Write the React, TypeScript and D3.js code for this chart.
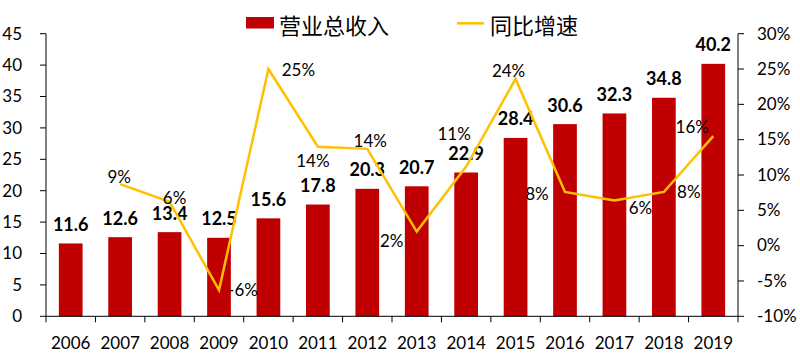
import React from "react";
import * as d3 from "d3";

const years = ["2006","2007","2008","2009","2010","2011","2012","2013","2014","2015","2016","2017","2018","2019"];
const revenue = [11.6, 12.6, 13.4, 12.5, 15.6, 17.8, 20.3, 20.7, 22.9, 28.4, 30.6, 32.3, 34.8, 40.2];
const growth: (number | null)[] = [null, 8.7, 6.2, -6.3, 25.0, 14.0, 13.7, 2.0, 11.2, 23.6, 7.6, 6.4, 7.6, 15.5];
const growthLabels = ["", "9%", "6%", "-6%", "25%", "14%", "14%", "2%", "11%", "24%", "8%", "6%", "8%", "16%"];
const leftTicks = [0, 5, 10, 15, 20, 25, 30, 35, 40, 45];
const rightTicks = [-10, -5, 0, 5, 10, 15, 20, 25, 30];
const seriesNames = ["营业总收入", "同比增速"];

// label placement offsets (dx, dy of text baseline-center relative to point)
const pctOffsets: [number, number][] = [
  [0, 0], [-1, -1], [5, 2], [24, 6], [30, 7], [-5, 20.5], [3, -1.5],
  [-25, 15], [-12, -27], [-7, -2], [-28, 8.5], [26, 14], [25, 5.6], [-21, -3.3],
];

const W = 800, H = 358;
const L = 46, R = 738, T = 33.7, B = 316.3;
const BAR = "#C00000";
const LINE = "#FFC000";
const FONT = "Lato, 'Noto Sans', sans-serif";
const CJK = "'Noto Sans CJK SC', sans-serif";

export default function App() {
  const x = d3.scaleBand<string>().domain(years).range([L, R]).paddingInner(0.52).paddingOuter(0.26);
  const yL = d3.scaleLinear().domain([0, 45]).range([B, T]);
  const yR = d3.scaleLinear().domain([-10, 30]).range([B, T]);
  const cx = (y: string) => (x(y) as number) + x.bandwidth() / 2;

  const pts = years
    .map((yr, i) => ({ yr, i, v: growth[i] }))
    .filter((d) => d.v !== null) as { yr: string; i: number; v: number }[];
  const lineGen = d3.line<{ yr: string; v: number }>().x((d) => cx(d.yr)).y((d) => yR(d.v));

  const step = x.step();
  const boundaries = d3.range(years.length + 1).map((k) => L + k * step);

  return (
    <svg width={W} height={H} style={{ position: "absolute", left: 0, top: 0, background: "#fff" }}>
      {/* bars */}
      {years.map((yr, i) => (
        <rect key={yr} x={x(yr)} y={yL(revenue[i])} width={x.bandwidth()} height={B - yL(revenue[i])} fill={BAR} />
      ))}
      {/* bar labels */}
      {years.map((yr, i) => (
        <text key={"bl" + yr} x={cx(yr)} y={yL(revenue[i]) - 12.5} textAnchor="middle"
          fontFamily={FONT} fontWeight="bold" fontSize={18} fill="#000">
          {revenue[i].toFixed(1)}
        </text>
      ))}
      {/* line */}
      <path d={lineGen(pts) || ""} fill="none" stroke={LINE} strokeWidth={2.5} strokeLinejoin="miter" />
      {pts.map((d) => (
        <text key={"pl" + d.yr} x={cx(d.yr) + pctOffsets[d.i][0]} y={yR(d.v) + pctOffsets[d.i][1]}
          textAnchor="middle" fontFamily={FONT} fontSize={17} fill="#000">
          {growthLabels[d.i]}
        </text>
      ))}
      {/* left axis */}
      <line x1={L} x2={L} y1={T} y2={B} stroke="#000" strokeWidth={1} />
      {leftTicks.map((t) => (
        <g key={"lt" + t}>
          <line x1={L - 6} x2={L} y1={yL(t)} y2={yL(t)} stroke="#000" />
          <text x={22} y={yL(t) + 5.8} textAnchor="end" fontFamily={FONT} fontSize={17} fill="#000">{t}</text>
        </g>
      ))}
      {/* right axis */}
      <line x1={R} x2={R} y1={T} y2={B} stroke="#000" strokeWidth={1} />
      {rightTicks.map((t) => (
        <g key={"rt" + t}>
          <line x1={R} x2={R + 6} y1={yR(t)} y2={yR(t)} stroke="#000" />
          <text x={757} y={yR(t) + 5.8} textAnchor="start" fontFamily={FONT} fontSize={17} fill="#000">{t + "%"}</text>
        </g>
      ))}
      {/* bottom axis */}
      <line x1={L} x2={R} y1={B} y2={B} stroke="#000" />
      {boundaries.map((bx, k) => (
        <line key={"bt" + k} x1={bx} x2={bx} y1={B} y2={B + 6} stroke="#000" />
      ))}
      {years.map((yr) => (
        <text key={"xl" + yr} x={cx(yr)} y={349.3} textAnchor="middle" fontFamily={FONT} fontSize={17} fill="#000">{yr}</text>
      ))}
      {/* legend */}
      <rect x={246} y={17} width={28} height={11.5} fill={BAR} />
      <text x={279} y={34} fontFamily={CJK} fontSize={22} fill="#000">{seriesNames[0]}</text>
      <line x1={457} x2={484} y1={23.3} y2={23.3} stroke={LINE} strokeWidth={2.5} />
      <text x={490} y={34} fontFamily={CJK} fontSize={22} fill="#000">{seriesNames[1]}</text>
    </svg>
  );
}
